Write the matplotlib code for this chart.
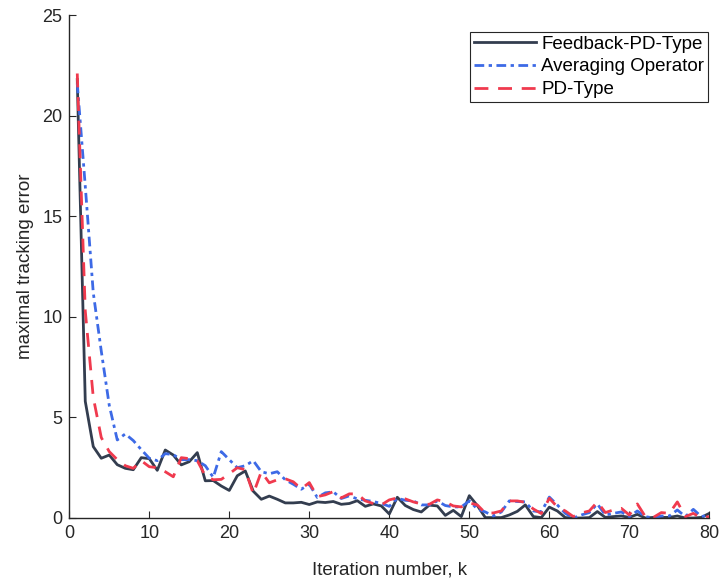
import matplotlib
matplotlib.use("Agg")
import matplotlib.pyplot as plt

plt.rcParams['font.family'] = ['Liberation Sans', 'DejaVu Sans']

k = list(range(1, 81))

feedback_pd = [21.8, 5.8, 3.55, 2.97, 3.13, 2.65, 2.47, 2.4, 3.0, 2.95,
               2.37, 3.38, 3.13, 2.64, 2.8, 3.25, 1.85, 1.86, 1.59, 1.37,
               2.1, 2.34, 1.33, 0.93, 1.09, 0.93, 0.75, 0.75, 0.78, 0.67,
               0.8, 0.77, 0.82, 0.68, 0.72, 0.86, 0.58, 0.7, 0.6, 0.2,
               1.03, 0.62, 0.42, 0.3, 0.64, 0.6, 0.13, 0.38, 0.07, 1.11,
               0.62, 0.02, 0.02, 0.02, 0.15, 0.33, 0.65, 0.07, 0.02, 0.54,
               0.35, 0.02, 0.0, 0.0, 0.02, 0.32, 0.03, 0.07, 0.1, 0.03,
               0.18, 0.0, 0.03, 0.03, 0.03, 0.1, 0.0, 0.0, 0.03, 0.23]

averaging = [21.6, 16.5, 11.2, 8.3, 5.6, 3.88, 4.18, 3.85, 3.4, 2.97,
             2.85, 3.2, 3.15, 2.9, 2.9, 2.85, 2.6, 2.02, 3.3, 2.9,
             2.5, 2.6, 2.85, 2.3, 2.2, 2.3, 1.9, 1.68, 1.43, 1.68,
             1.02, 1.25, 1.3, 0.97, 1.1, 0.95, 0.88, 0.82, 0.72, 0.58,
             0.98, 0.88, 0.85, 0.65, 0.65, 0.85, 0.62, 0.55, 0.55, 0.85,
             0.45, 0.3, 0.1, 0.3, 0.85, 0.82, 0.8, 0.35, 0.3, 1.04,
             0.65, 0.23, 0.0, 0.15, 0.27, 0.7, 0.15, 0.23, 0.3, 0.07,
             0.35, 0.07, 0.0, 0.1, 0.1, 0.4, 0.07, 0.43, 0.07, 0.15]

pd_type = [22.1, 10.3, 6.0, 4.0, 3.3, 2.9, 2.6, 2.47, 2.85, 2.55,
           2.5, 2.3, 2.05, 3.0, 2.95, 2.85, 2.1, 1.9, 1.92, 2.2,
           2.5, 2.4, 1.2, 2.3, 1.75, 1.9, 1.95, 1.8, 1.45, 1.76,
           1.06, 1.15, 1.31, 1.0, 1.2, 1.2, 0.85, 0.72, 0.65, 0.9,
           1.0, 0.95, 0.8, 0.7, 0.68, 0.9, 0.8, 0.6, 0.55, 0.75,
           0.65, 0.25, 0.25, 0.35, 0.85, 0.85, 0.78, 0.45, 0.22, 0.98,
           0.55, 0.35, 0.07, 0.25, 0.35, 0.8, 0.27, 0.4, 0.48, 0.15,
           0.7, 0.07, 0.03, 0.27, 0.23, 0.8, 0.07, 0.23, 0.0, 0.07]

fig = plt.figure(figsize=(7.23, 5.83), dpi=100)
ax = fig.add_axes([0.0958, 0.1115, 0.8853, 0.8625])

ax.plot(k, feedback_pd, color='#333d4f', lw=2.0, label='Feedback-PD-Type')
ax.plot(k, averaging, color='#3d6ae6', lw=2.0, dashes=(3.5, 1.6, 1.2, 1.6),
        label='Averaging Operator')
ax.plot(k, pd_type, color='#f03a4e', lw=2.0, dashes=(5, 3.5),
        label='PD-Type')

ax.set_xlim(0, 80)
ax.set_ylim(0, 25)
ax.set_xticks(range(0, 81, 10))
ax.set_yticks(range(0, 26, 5))
ax.spines['top'].set_visible(False)
ax.spines['right'].set_visible(False)
for s in ['left', 'bottom']:
    ax.spines[s].set_color('#262626')
    ax.spines[s].set_linewidth(1.0)
ax.tick_params(direction='in', length=5, labelsize=13, colors='#262626', pad=5)

ax.set_xlabel('Iteration number, k', fontsize=13.5, color='#262626', labelpad=14)
ax.set_ylabel('maximal tracking error', fontsize=13.5, color='#262626', labelpad=6)

leg = ax.legend(loc='upper right', fontsize=13.5, handlelength=3.3,
                fancybox=False, edgecolor='#262626', framealpha=1,
                borderpad=0.2, labelspacing=0.3, handletextpad=0.3,
                borderaxespad=0, bbox_to_anchor=(0.998, 0.967))
leg.get_frame().set_linewidth(0.8)

fig.savefig('out.png', dpi=100)
